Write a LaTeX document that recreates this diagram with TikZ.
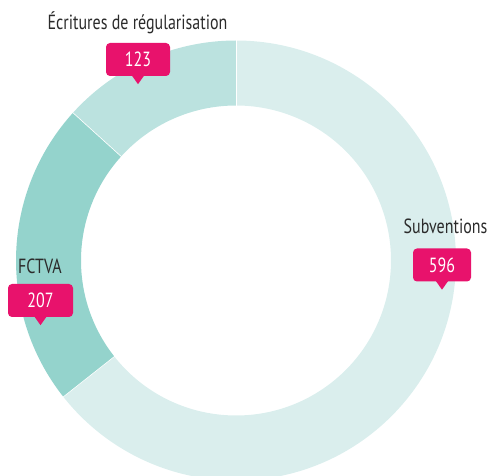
\documentclass[tikz,border=0pt]{standalone}
\usepackage{fontspec}
\setmainfont{PT Sans}[FakeStretch=0.78]
\usetikzlibrary{calc}
\definecolor{subv}{HTML}{DAEEED}
\definecolor{fctva}{HTML}{94D3CC}
\definecolor{ecrit}{HTML}{BBE2DF}
\definecolor{mag}{HTML}{E8126C}
\definecolor{txt}{HTML}{2B2B2B}
\tikzset{
  lbl/.style={text=txt, font=\fontsize{20.5}{22}\selectfont, anchor=base, inner sep=0pt},
  numbox/.style={fill=mag, text=white, rounded corners=4pt, minimum height=33pt, inner sep=0pt, font=\fontsize{20.5}{22}\selectfont},
}
\newcommand{\ringseg}[3]{% start, end, color
  \fill[#3] (C) ++(#1:220pt) arc[start angle=#1, end angle=#2, radius=220pt]
    -- ($(C)+(#2:155pt)$) arc[start angle=#2, end angle=#1, radius=155pt] -- cycle;}
\newcommand{\pointer}[1]{%
  \fill[mag] ($(#1.south)+(-6pt,0.5pt)$) -- ($(#1.south)+(6pt,0.5pt)$) -- ($(#1.south)+(0,-8pt)$) -- cycle;}
\begin{document}
\begin{tikzpicture}[x=1pt,y=1pt]
\useasboundingbox (0,0) rectangle (491,-476);
\clip (0,0) rectangle (491,-476);
\coordinate (C) at (236,-260.5);
\ringseg{90}{-141.71}{subv}
\ringseg{218.29}{137.82}{fctva}
\ringseg{137.82}{90}{ecrit}
\foreach \a in {90,218.29,137.82}
  \draw[white, line width=0.6pt] ($(C)+(\a:154pt)$) -- ($(C)+(\a:221pt)$);
\node[lbl] (lE) at (137.5,-30) {Écritures de régularisation};
\node[lbl] (lS) at (445.5,-234) {Subventions};
\node[lbl] (lF) at (40,-274) {FCTVA};
\node[numbox, minimum width=64pt] (n123) at (138,-59.5) {123};
\pointer{n123}
\node[numbox, minimum width=58pt] (n596) at (442,-265) {596};
\pointer{n596}
\node[numbox, minimum width=65pt] (n207) at (40.5,-300.5) {207};
\pointer{n207}
\end{tikzpicture}
\end{document}
